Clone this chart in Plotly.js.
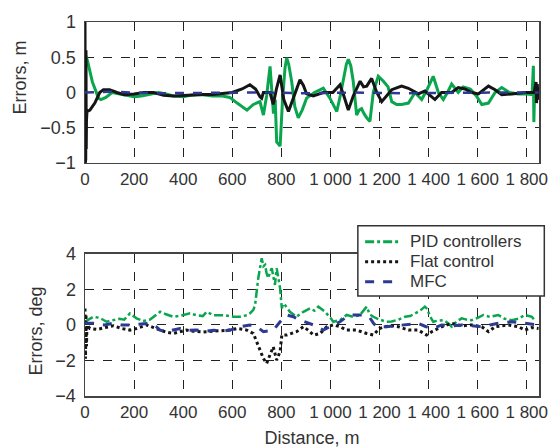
<!DOCTYPE html>
<html>
<head>
<meta charset="utf-8">
<script src="https://cdn.plot.ly/plotly-3.0.1.min.js"></script>
<style>html,body{margin:0;padding:0;background:#fff}#chart{width:550px;height:448px}</style>
</head>
<body>
<div id="chart"></div>
<script>
// ---- Data ----
const xTickVals = [0, 200, 400, 600, 800, 1000, 1200, 1400, 1600, 1800];
const xTickText = ["0", "200", "400", "600", "800", "1 000", "1 200", "1 400", "1 600", "1 800"];
const topYTicks = [-1, -0.5, 0, 0.5, 1];
const botYTicks = [-4, -2, 0, 2, 4];
const seriesNames = ["PID controllers", "Flat control", "MFC"];

// Top panel: position errors, m
const topPidX = [0,10,30,55,65,85,110,140,170,200,230,260,300,330,360,400,430,470,520,560,590,620,645,660,686,713,727,740,754,762,768,775,781,795,805,815,822,830,842,855,869,885,903,935,971,998,1026,1040,1053,1065,1073,1083,1093,1107,1117,1127,1137,1148,1161,1175,1195,1216,1235,1250,1270,1290,1318,1345,1358,1372,1395,1419,1440,1460,1477,1494,1521,1541,1570,1595,1617,1644,1671,1698,1730,1766,1800,1822,1827,1829,1832,1845];
const topPidY = [0.55,0.45,0.15,-0.08,-0.10,-0.07,0.0,-0.02,-0.05,-0.06,-0.05,-0.03,0.0,-0.02,-0.05,-0.06,-0.04,-0.03,-0.05,-0.05,-0.07,-0.15,-0.22,-0.25,-0.17,-0.13,-0.32,-0.05,0.37,0.0,-0.3,-0.1,-0.70,-0.76,-0.1,0.35,0.49,0.40,0.16,-0.20,-0.36,-0.25,-0.08,0.0,0.06,-0.08,-0.27,-0.05,0.16,0.40,0.47,0.38,0.16,-0.32,-0.25,-0.23,-0.30,-0.36,-0.41,0.01,0.23,0.16,0.08,-0.13,-0.17,-0.17,-0.15,0.0,-0.05,-0.10,0.05,0.23,0.0,-0.10,0.0,0.12,0.0,0.08,0.05,-0.05,-0.17,-0.15,0.0,0.07,0.0,-0.02,-0.02,-0.03,0.38,-0.42,0.0,-0.02];

const topFlatX = [0,1,2,3,4,5,6,8,20,40,60,75,100,130,160,200,240,280,320,360,400,440,480,520,560,600,640,672,695,713,720,727,754,767,780,795,810,829,849,876,890,903,930,971,1010,1039,1055,1073,1093,1121,1135,1148,1168,1189,1209,1230,1250,1290,1318,1358,1385,1426,1453,1494,1521,1548,1576,1603,1644,1671,1698,1739,1793,1830,1838,1840,1843,1846,1848];
const topFlatY = [1.0,-1.0,0.95,-0.95,0.6,-0.8,-0.4,-0.27,-0.25,-0.15,0.0,0.04,0.04,0.0,-0.03,-0.02,0.0,0.0,-0.04,-0.05,-0.04,-0.03,-0.03,-0.03,-0.02,0.0,0.05,0.11,0.05,-0.06,-0.08,0.0,0.0,-0.17,0.05,0.25,-0.1,-0.27,-0.08,0.18,0.10,-0.02,-0.05,0.0,0.0,0.11,-0.05,-0.25,-0.05,0.16,0.08,0.09,0.20,0.0,-0.13,-0.05,0.04,0.09,0.06,-0.02,0.02,-0.10,0.0,0.0,0.07,0.05,0.0,-0.02,0.09,0.04,-0.03,-0.02,0.0,0.0,0.15,-0.15,0.12,-0.1,0.0];

const topMfcX = [0,100,300,500,700,900,1100,1300,1500,1700,1848];
const topMfcY = [0.0,0.01,-0.01,0.0,0.0,-0.01,0.0,-0.01,0.0,0.0,0.0];

// Bottom panel: heading errors, deg
const botPidX = [0,15,34,60,88,115,140,160,183,210,237,265,290,306,330,360,390,428,455,480,496,523,564,604,632,660,672,686,693,706,720,727,734,740,747,754,761,767,774,781,788,795,802,808,815,825,835,862,890,917,935,951,978,1000,1012,1039,1066,1093,1120,1148,1160,1175,1200,1229,1250,1277,1304,1325,1345,1365,1385,1395,1405,1419,1440,1460,1480,1494,1515,1535,1555,1576,1600,1623,1650,1684,1710,1739,1765,1793,1821,1830];
const botPidY = [0.18,0.3,0.46,0.40,0.18,0.27,0.35,0.30,0.65,0.37,0.22,0.30,0.55,0.74,0.60,0.46,0.52,0.65,0.55,0.50,0.74,0.55,0.55,0.46,0.46,0.55,0.65,0.85,1.12,2.63,3.76,3.3,3.38,2.9,2.63,3.0,3.19,2.7,2.25,3.19,2.6,2.06,0.93,1.2,1.12,0.9,0.74,0.46,0.74,0.93,0.8,1.03,0.74,0.4,0.18,0.27,0.56,0.46,0.55,1.03,0.6,0.46,0.3,0.18,0.2,0.3,0.46,0.5,0.65,0.8,1.03,0.9,0.5,0.18,0.25,0.27,0.1,-0.1,0.2,0.37,0.3,0.27,0.4,0.56,0.45,0.56,0.35,0.27,0.35,0.56,0.46,0.3];

const botFlatX = [0,2,4,6,8,20,50,80,115,150,183,210,251,280,306,330,360,387,414,440,480,523,560,591,620,659,686,706,727,740,754,767,781,795,802,822,862,890,910,931,958,985,1012,1039,1066,1107,1148,1175,1200,1222,1250,1277,1318,1358,1392,1413,1453,1494,1535,1576,1617,1644,1671,1726,1766,1793,1820,1848];
const botFlatY = [0.93,-1.9,0.6,-1.2,0.0,-0.2,-0.25,-0.15,-0.05,-0.2,-0.29,-0.2,0.0,-0.15,-0.29,-0.4,-0.48,-0.4,-0.29,-0.35,-0.4,-0.35,-0.3,-0.29,-0.2,-0.29,-0.48,-1.14,-1.89,-2.17,-1.7,-1.23,-1.98,-1.5,-0.57,-0.57,-0.38,-0.1,-0.3,-0.57,-0.48,-0.1,0.0,-0.1,-0.29,-0.29,-0.48,-0.57,-0.2,-0.1,-0.05,-0.1,-0.29,-0.29,-0.57,-0.38,-0.1,0.09,-0.05,0.0,-0.1,-0.38,-0.1,0.0,-0.1,-0.29,-0.15,-0.2];

const botMfcX = [0,34,80,115,150,183,230,265,290,306,330,360,387,420,455,490,523,560,591,632,672,700,727,767,795,822,849,870,890,931,971,998,1039,1066,1093,1134,1161,1175,1189,1229,1270,1318,1358,1390,1420,1453,1494,1535,1576,1617,1650,1684,1739,1793,1848];
const botMfcY = [0.1,0.09,0.0,0.1,0.0,0.0,0.05,0.09,-0.1,-0.29,-0.38,-0.3,-0.2,-0.3,-0.29,-0.35,-0.3,-0.35,-0.29,-0.1,0.0,-0.1,-0.38,-0.3,0.18,0.56,0.46,0.3,0.2,0.0,-0.29,-0.1,0.18,0.46,0.56,0.56,0.4,0.1,-0.1,-0.1,-0.05,0.0,0.09,-0.1,-0.2,0.0,-0.05,0.0,-0.05,-0.1,0.0,0.09,0.18,0.1,0.0];

// ---- Styling ----
const GREEN = "#0aa64e", BLACK = "#151515", BLUE = "#2c3a92";
const COLORS = [GREEN, BLACK, BLUE];
const LEG_DASH = ["dashdot", "dot", "dash"];
const FONT = "Liberation Sans, Arial, sans-serif";
const TXT = "#333333";

const traces = [
  {x: topPidX, y: topPidY, xaxis: "x", yaxis: "y", mode: "lines", name: seriesNames[0], showlegend: false,
   line: {color: GREEN, width: 3}},
  {x: topFlatX, y: topFlatY, xaxis: "x", yaxis: "y", mode: "lines", name: seriesNames[1], showlegend: false,
   line: {color: BLACK, width: 3}},
  {x: topMfcX, y: topMfcY, xaxis: "x", yaxis: "y", mode: "lines", name: seriesNames[2], showlegend: false,
   line: {color: BLUE, width: 2.5, dash: "dash"}},
  {x: botPidX, y: botPidY, xaxis: "x2", yaxis: "y2", mode: "lines", name: seriesNames[0], showlegend: false,
   line: {color: GREEN, width: 2.5, dash: "dashdot"}},
  {x: botFlatX, y: botFlatY, xaxis: "x2", yaxis: "y2", mode: "lines", name: seriesNames[1], showlegend: false,
   line: {color: BLACK, width: 3, dash: "dot"}},
  {x: botMfcX, y: botMfcY, xaxis: "x2", yaxis: "y2", mode: "lines", name: seriesNames[2], showlegend: false,
   line: {color: BLUE, width: 3, dash: "dash"}}
];

const xCommon = {
  range: [0, 1850], tickvals: xTickVals, ticktext: xTickText,
  showgrid: true, gridcolor: "#222", griddash: "dash", gridwidth: 1,
  zeroline: false, showline: true, mirror: true, linecolor: "#444", linewidth: 1.5,
  ticks: "", tickfont: {family: FONT, size: 17, color: TXT}, ticklabelstandoff: 0
};
const yCommon = {
  showgrid: true, gridcolor: "#222", griddash: "dash", gridwidth: 1,
  zeroline: false, showline: true, mirror: true, linecolor: "#444", linewidth: 1.5,
  ticks: "", tickfont: {family: FONT, size: 18, color: TXT}, ticklabelstandoff: 4
};

// Legend box (drawn as shapes + text, placed in paper coordinates)
const legBox = {x0: 0.601, x1: 1.0117, y0: 0.2674, y1: 0.4553};
const legRowsY = [0.4126, 0.3591, 0.3056];
const shapes = [
  {type: "rect", xref: "paper", yref: "paper", x0: legBox.x0, x1: legBox.x1, y0: legBox.y0, y1: legBox.y1,
   line: {color: "#333", width: 1.5}, fillcolor: "#fff", layer: "above"}
];
const annotations = [
  {text: "Errors, m", xref: "paper", yref: "paper", x: -0.143, y: 0.852, textangle: -90,
   showarrow: false, xanchor: "center", yanchor: "middle", font: {family: FONT, size: 18, color: TXT}},
  {text: "Errors, deg", xref: "paper", yref: "paper", x: -0.108, y: 0.175, textangle: -90,
   showarrow: false, xanchor: "center", yanchor: "middle", font: {family: FONT, size: 18, color: TXT}}
];
seriesNames.forEach((nm, i) => {
  shapes.push({type: "line", xref: "paper", yref: "paper", x0: 0.617, x1: 0.690, y0: legRowsY[i], y1: legRowsY[i],
               line: {color: COLORS[i], width: 3, dash: LEG_DASH[i]}, layer: "above"});
  annotations.push({text: nm, xref: "paper", yref: "paper", x: 0.712, y: legRowsY[i], xanchor: "left", yanchor: "middle",
                    showarrow: false, font: {family: FONT, size: 17, color: TXT}});
});

const layout = {
  width: 550, height: 448,
  margin: {l: 85, r: 11, t: 22, b: 52},
  paper_bgcolor: "#fff", plot_bgcolor: "#fff",
  font: {family: FONT, color: TXT},
  showlegend: false,
  xaxis: Object.assign({}, xCommon, {domain: [0, 1], anchor: "y"}),
  yaxis: Object.assign({}, yCommon, {domain: [0.623, 1], range: [-1, 1], tickvals: topYTicks, anchor: "x"}),
  xaxis2: Object.assign({}, xCommon, {domain: [0, 1], anchor: "y2",
           title: {text: "Distance, m", font: {family: FONT, size: 18, color: TXT}, standoff: 22}}),
  yaxis2: Object.assign({}, yCommon, {domain: [0, 0.38], range: [-4, 4], tickvals: botYTicks, anchor: "x2"}),
  shapes: shapes,
  annotations: annotations
};

Plotly.newPlot("chart", traces, layout, {displayModeBar: false, staticPlot: true});
</script>
</body>
</html>
